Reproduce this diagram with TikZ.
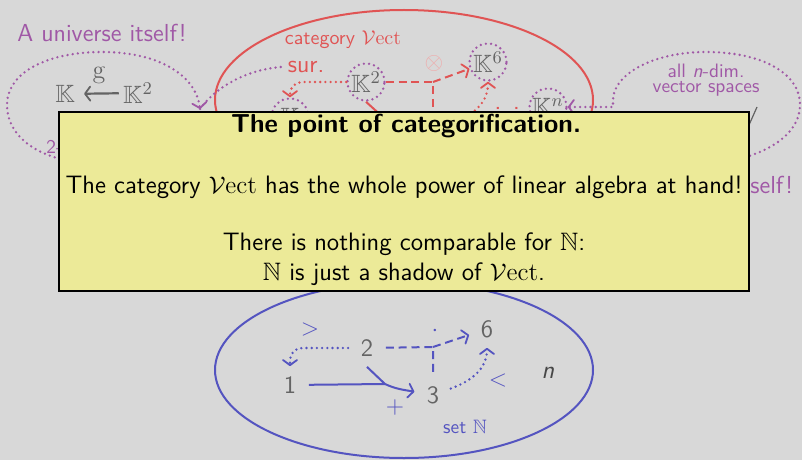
\documentclass[tikz,border=0pt]{standalone}
\usepackage{fontspec}
\usepackage{amsmath, amssymb}
\usetikzlibrary{arrows.meta, calc, positioning}
\renewcommand{\familydefault}{\sfdefault}

\definecolor{slidegray}{RGB}{216,216,216}
\definecolor{univpurple}{RGB}{160,88,166}
\definecolor{vectred}{RGB}{224,84,84}
\definecolor{natblue}{RGB}{84,84,192}
\definecolor{objgray}{RGB}{100,100,100}
\definecolor{notefill}{RGB}{236,234,152}

\newcommand{\Vect}{\mathcal{V}\mathrm{ect}}

\tikzset{
  dotline/.style={line width=1.3pt, dash pattern=on 0pt off 2.6pt, line cap=round},
  dashline/.style={line width=1pt, dash pattern=on 4pt off 2.4pt},
  barb/.style={-{Straight Barb[length=2.6pt,width=7pt,round,line width=0.9pt]}},
  obj/.style={circle, minimum size=18.5pt, inner sep=0pt, text=objgray,
    font=\sffamily\fontsize{12.5}{14}\selectfont},
  kobj/.style={obj, draw=univpurple, dotline},
  objtext/.style={text=objgray, inner sep=2pt, font=\sffamily\fontsize{12.5}{14}\selectfont},
  labelsmall/.style={font=\sffamily\fontsize{9.7}{11}\selectfont, inner sep=0.5pt},
  labelbig/.style={font=\sffamily\fontsize{12.3}{14}\selectfont},
  relsym/.style={natblue, font=\fontsize{13}{15}\selectfont},
  notebox/.style={draw=black, line width=0.8pt, fill=notefill,
    minimum width=345pt, minimum height=89.5pt, inner sep=0pt},
  notetext/.style={font=\sffamily\fontsize{12.6}{15}\selectfont, anchor=base},
}

\begin{document}
\begin{tikzpicture}[x=0.5pt, y=-0.5pt, font=\sffamily]
  % 1. Slide background
  \fill[slidegray] (0,0) rectangle (802,460);
  \useasboundingbox (0,0) rectangle (802,460);

  % 2. The two regions: category Vect above, set N below
  \draw[vectred, line width=1pt] (404,100) ellipse [x radius=189, y radius=90];
  \draw[natblue, line width=1pt] (404,370) ellipse [x radius=189, y radius=88];
  \node[vectred, font=\sffamily\fontsize{10}{12}\selectfont] (catlabel) at (343,40) {category $\Vect$};
  \node[natblue, labelsmall] (setlabel) at (465,427) {set $\mathbb{N}$};

  % 3. Objects of Vect (top) and of N (bottom)
  \node[kobj] (K1) at (290,117) {$\mathbb{K}$};
  \node[kobj] (K2) at (366,82) {$\mathbb{K}^2$};
  \coordinate (K3) at (433,131);
  \node[kobj] (K6) at (488,62) {$\mathbb{K}^6$};
  \node[kobj] (Kn) at (548,107) {$\mathbb{K}^n$};

  \node[obj] (N1) at (290,385) {1};
  \node[obj] (N2) at (367,348) {2};
  \node[obj] (N3) at (433,395) {3};
  \node[obj] (N6) at (487,329) {6};
  \node[obj, text=black!72] (Nn) at (548,373) {\textit{n}};

  % 4. Morphisms in Vect
  \coordinate (tsplit) at (433,82);
  \coordinate (tmerge) at (385,119);
  \draw[vectred, dashline] (K2) -- (tsplit) -- (K3);
  \draw[vectred, dashline, barb] (tsplit) -- (K6);
  \draw[vectred, line width=1pt] (K2.south) -- (tmerge);
  \draw[vectred, line width=1pt] (K1) -- (tmerge);
  \draw[vectred, dotline, barb, rounded corners=6pt] (K2) -| (K1);
  \draw[vectred, dotline, barb] (K3) to[out=20, in=-90] (K6);
  \node[vectred, labelbig] (surlabel) at (306,67) {sur.};
  \node[vectred, labelbig, anchor=base west] (injlabel) at (488,123) {inj.};
  \node[vectred!50, labelbig] (otimes) at (434,64) {$\otimes$};

  % 5. Maps between numbers
  \coordinate (bsplit) at (433,347);
  \coordinate (bmerge) at (385,384);
  \draw[natblue, dashline] (N2) -- (bsplit) -- (N3);
  \draw[natblue, dashline, barb] (bsplit) -- (N6);
  \draw[natblue, line width=1pt] (N2.south) -- (bmerge);
  \draw[natblue, line width=1pt] (N1) -- (bmerge);
  \draw[natblue, line width=1pt, barb] (bmerge) to[out=-25, in=170] (N3);
  \draw[natblue, dotline, barb, rounded corners=6pt] (N2) -| (N1);
  \draw[natblue, dotline, barb] (N3) to[out=20, in=-90] (N6);
  \node[relsym] (gtlabel) at (310,329) {$>$};
  \node[relsym] (ltlabel) at (498,380) {$<$};
  \node[relsym] (pluslabel) at (395,407) {$+$};
  \node[relsym] (dotlabel) at (435,331) {$\cdot$};

  % 6. The universes of vector spaces
  \node[univpurple, labelbig, anchor=base] (univleft) at (102,42) {A universe itself!};
  \node[univpurple, labelbig, anchor=base east] (univright) at (800,193) {self!};
  \node[objtext] (Kl) at (65,94) {$\mathbb{K}$};
  \node[objtext] (Kl2) at (138,93) {$\mathbb{K}^2$};
  \draw[objgray, line width=1.1pt, barb, shorten >=2.5pt] (Kl2) -- node[above=1pt, text=objgray, font=\fontsize{13}{15}\selectfont] (glabel) {$\mathrm{g}$} (Kl);
  \coordinate (leftend) at (200,109);
  \coordinate (leftstart) at (80,163);
  \coordinate (rightstart) at (730,161);
  \draw[univpurple, dotline, barb] (leftstart) .. controls (30,156) and (7,132) .. (7,105)
    .. controls (7,72) and (48,52) .. (102,52) .. controls (160,52) and (196,76) .. (leftend);
  \draw[univpurple, dotline] (surlabel.west) .. controls (245,70) and (215,88) .. (leftend);
  \draw[univpurple, dotline, barb] (rightstart) .. controls (775,152) and (800,130) .. (800,105)
    .. controls (800,72) and (760,52) .. (706,52) .. controls (652,52) and (613,75) .. (613,100) |- (Kn);
  \node[univpurple, labelsmall, anchor=base, inner sep=0pt] (alldim) at (706,77) {all \textit{n}-dim.};
  \node[univpurple, labelsmall, anchor=base, inner sep=0pt] (vecspaces) at (706,93) {vector spaces};
  \node[univpurple, labelsmall, anchor=base west] (twodim) at (45,153) {2-};
  \draw[objgray, line width=0.6pt] (749,125) -- (757,107);

  % 7. The message box
  \node[notebox] (pointbox) at (404,201.5) {};
  \node[notetext, font=\sffamily\fontsize{13}{15}\selectfont\bfseries] (title) at (406,133) {The point of categorification.};
  \node[notetext] (powerline) at (404,193) {The category $\Vect$ has the whole power of linear algebra at hand!};
  \node[notetext] (shadowa) at (404,250) {There is nothing comparable for $\mathbb{N}$:};
  \node[notetext] (shadowb) at (404,280) {$\mathbb{N}$ is just a shadow of $\Vect$.};
\end{tikzpicture}
\end{document}
